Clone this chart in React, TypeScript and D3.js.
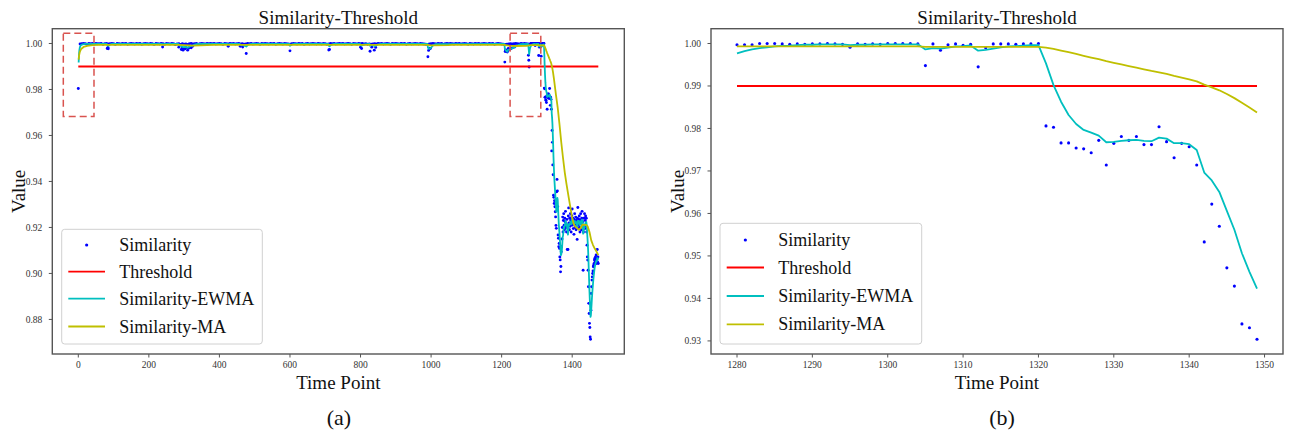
import React from 'react';
import * as d3 from 'd3';

type Pt = [number, number];

// ---------- DATA ----------
// Panel (a): plateau similarity, sampled every 5 time points from t=5 to t=1275
const plateauStart = 5;
const plateauStep = 5;
const plateauSim = [
  0.9998,0.9999,1.0000,0.9999,0.9997,1.0000,0.9999,1.0000,0.9998,1.0000,0.9999,0.9999,1.0000,0.9997,0.9999,
  1.0000,0.9998,0.9999,1.0000,0.9999,0.9996,1.0000,0.9999,0.9998,1.0000,0.9999,1.0000,0.9997,0.9999,1.0000,
  0.9999,0.9998,1.0000,0.9999,1.0000,0.9997,0.9999,1.0000,0.9999,0.9998,1.0000,0.9999,0.9996,1.0000,0.9999,
  0.9998,1.0000,0.9999,0.9997,1.0000,0.9999,0.9998,1.0000,0.9999,0.9995,0.9998,0.9999,0.9996,0.9999,0.9997,
  0.9998,0.9996,0.9999,1.0000,0.9998,0.9999,1.0000,0.9997,0.9999,1.0000,0.9999,0.9998,1.0000,0.9999,1.0000,
  0.9999,1.0000,0.9998,0.9999,1.0000,0.9999,0.9997,1.0000,0.9999,0.9998,1.0000,0.9999,1.0000,0.9998,0.9999,
  1.0000,0.9998,0.9999,0.9997,0.9998,1.0000,0.9999,1.0000,0.9998,0.9999,1.0000,0.9999,0.9997,1.0000,0.9999,
  1.0000,0.9999,0.9998,1.0000,0.9999,1.0000,0.9997,0.9999,1.0000,0.9999,0.9998,1.0000,0.9999,0.9998,0.9997,
  0.9999,1.0000,0.9999,0.9998,1.0000,0.9999,1.0000,0.9997,0.9999,1.0000,0.9998,0.9999,1.0000,0.9999,0.9998,
  1.0000,0.9999,0.9998,1.0000,0.9999,0.9997,0.9998,1.0000,0.9999,1.0000,0.9998,0.9999,1.0000,0.9999,1.0000,
  0.9998,0.9999,1.0000,0.9999,0.9997,1.0000,0.9999,0.9998,1.0000,0.9999,1.0000,0.9998,0.9999,0.9997,0.9998,
  0.9997,0.9998,0.9999,0.9998,1.0000,0.9999,1.0000,0.9998,0.9999,1.0000,0.9999,0.9997,1.0000,0.9999,1.0000,
  0.9999,0.9998,1.0000,0.9999,1.0000,0.9997,0.9999,1.0000,0.9998,0.9999,1.0000,0.9999,0.9998,1.0000,0.9999,
  0.9998,0.9997,0.9996,0.9998,0.9999,1.0000,0.9999,0.9998,1.0000,0.9999,1.0000,0.9997,0.9999,1.0000,0.9999,
  1.0000,0.9999,0.9998,1.0000,0.9999,1.0000,0.9998,0.9999,1.0000,0.9999,0.9997,1.0000,0.9999,0.9998,1.0000,
  0.9999,1.0000,0.9998,0.9999,1.0000,0.9999,0.9998,1.0000,0.9999,1.0000,0.9997,0.9999,1.0000,0.9999,0.9998,
  0.9997,0.9996,0.9997,0.9998,0.9999,0.9998,0.9999,1.0000,0.9999,0.9998,1.0000,0.9999,1.0000,0.9999,0.9998,
];

// Panel (a): isolated dips below the plateau [time, similarity]
const dipDots: Pt[] = [
  [0,0.9804],[82,0.9978],[84,0.9983],[85,0.9977],[239,0.9985],[285,0.9984],[292,0.9974],[295,0.9980],
  [297,0.9971],[300,0.9978],[303,0.9977],[306,0.9982],[310,0.9971],[313,0.9979],[316,0.9983],[320,0.9981],
  [324,0.9988],[425,0.9988],[459,0.9988],[466,0.9985],[476,0.99565],[600,0.9968],[710,0.9972],[712,0.9974],
  [800,0.9984],[803,0.9978],[827,0.99665],[832,0.9984],[839,0.9971],[843,0.9983],[991,0.9942],[993,0.9970],
  [996,0.9980],[998,0.9978],[1209,0.9919],[1210,0.9965],[1211,0.9972],[1213,0.9971],[1214,0.9966],
  [1216,0.9963],[1217,0.9968],[1219,0.9978],[1222,0.9974],[1226,0.9977],[1231,0.9981],[1237,0.9985],
  [1276,0.9949],[1277,0.9927],[1278,0.9898],
];

// Shared detail, t = 1280 ... 1349 (panel b, also part of panel a)
const detailStart = 1280;
const simB = [
  0.9997,0.9997,0.9997,1.0000,1.0000,1.0000,0.9999,0.9998,0.9999,0.9998,
  0.9999,0.9999,1.0000,0.9999,0.9998,0.9991,0.9999,0.9998,0.9999,0.9998,
  1.0000,1.0000,1.0000,1.0000,0.9999,0.9948,0.9999,0.9984,0.9997,0.9999,
  0.9996,0.9998,0.9945,0.9990,0.9999,0.9999,0.9999,0.9998,0.9999,0.9999,
  1.0000,0.9806,0.9803,0.9766,0.9766,0.9754,0.9752,0.9743,0.9772,0.9714,
  0.9765,0.9781,0.9772,0.9781,0.9762,0.9762,0.9804,0.9769,0.9731,0.9765,
  0.9757,0.9714,0.9533,0.9622,0.9570,0.9472,0.9429,0.9340,0.9331,0.9304,
];
const ewmaB = [
  0.99765,0.9982,0.9986,0.9989,0.9991,0.9993,0.99945,0.9995,0.9996,0.9997,
  0.9997,0.9998,0.9998,0.9998,0.9998,0.9996,0.9997,0.9997,0.9998,0.9998,
  0.9998,0.9998,0.9998,0.9998,0.9998,0.9986,0.9989,0.9988,0.99905,0.9993,
  0.9994,0.99955,0.9983,0.9985,0.9988,0.9991,0.9993,0.9994,0.9995,0.9996,
  0.9996,0.99531,0.99021,0.98629,0.98317,0.98106,0.97965,0.97902,0.97831,0.97676,
  0.97683,0.97707,0.97723,0.9773,0.97707,0.977,0.97784,0.97761,0.97653,0.97653,
  0.9763,0.97495,0.96962,0.96778,0.96507,0.9606,0.95617,0.95064,0.94626,0.9423,
];
const maB = [
  0.9993,0.9993,0.9993,0.9993,0.9993,0.9993,0.9993,0.9993,0.9993,0.9993,
  0.9993,0.9993,0.9993,0.9993,0.9993,0.9993,0.9993,0.9993,0.9993,0.9993,
  0.9993,0.9993,0.9993,0.9993,0.9993,0.9992,0.9992,0.9992,0.9992,0.9992,
  0.9992,0.9992,0.9992,0.9992,0.9992,0.9992,0.9992,0.9992,0.9992,0.9992,
  0.9992,0.99905,0.99872,0.99833,0.99794,0.99753,0.99711,0.99669,0.99631,0.99583,
  0.99544,0.99507,0.99469,0.99433,0.99393,0.99353,0.99321,0.99282,0.99237,0.99198,
  0.99158,0.9911,0.99032,0.98969,0.98898,0.9881,0.98714,0.98604,0.98493,0.98377,
];

// Panel (a): tail, t = 1350 ... 1474
const tailStart = 1350;
const simC = [
  0.9316,0.9290,0.9268,0.9246,0.9209,0.9196,0.9355,0.9409,0.9359,0.9290,
  0.9167,0.9153,0.9116,0.9130,0.9109,0.9072,0.9059,0.9007,0.9030,0.9094,
  0.9116,0.9150,0.9200,0.9245,0.9180,0.9230,0.9260,0.9210,0.9190,0.9240,
  0.9225,0.9270,0.9200,0.9215,0.9180,0.9235,0.9104,0.9200,0.9104,0.9250,
  0.9285,0.9220,0.9190,0.9240,0.9205,0.9260,0.9230,0.9180,0.9215,0.9250,
  0.9280,0.9210,0.9240,0.9195,0.9225,0.9170,0.9235,0.9260,0.9200,0.9215,
  0.9245,0.9190,0.9230,0.9205,0.9148,0.9240,0.9287,0.9210,0.9195,0.9235,
  0.9250,0.9200,0.9180,0.9230,0.9260,0.9215,0.9190,0.9240,0.9270,0.9205,
  0.9225,0.9014,0.9180,0.9240,0.9210,0.9260,0.9195,0.9230,0.9250,0.9205,
  0.9240,0.9180,0.9123,0.9072,0.9058,0.9014,0.8942,0.8870,0.8826,0.8783,
  0.8765,0.8724,0.8714,0.8840,0.8913,0.8942,0.8971,0.8985,0.9000,0.9011,
  0.9029,0.9036,0.9043,0.9058,0.9065,0.9050,0.9072,0.9058,0.9080,0.9043,
  0.9065,0.9104,0.9050,0.9072,0.9043,
];
const ewmaC = [
  0.9396,0.9370,0.9344,0.9320,0.9292,0.9268,0.9290,0.9320,0.9329,0.9320,
  0.9281,0.9249,0.9216,0.9194,0.9173,0.9148,0.9126,0.9096,0.9079,0.9083,
  0.9091,0.9106,0.9130,0.9158,0.9164,0.9180,0.9200,0.9203,0.9200,0.9210,
  0.9214,0.9228,0.9221,0.9219,0.9210,0.9216,0.9188,0.9191,0.9169,0.9189,
  0.9213,0.9215,0.9209,0.9217,0.9214,0.9225,0.9226,0.9215,0.9215,0.9224,
  0.9238,0.9231,0.9233,0.9224,0.9224,0.9210,0.9217,0.9227,0.9221,0.9219,
  0.9226,0.9217,0.9220,0.9216,0.9199,0.9209,0.9229,0.9224,0.9217,0.9221,
  0.9228,0.9221,0.9211,0.9216,0.9227,0.9224,0.9216,0.9222,0.9234,0.9227,
  0.9226,0.9173,0.9175,0.9191,0.9196,0.9212,0.9208,0.9213,0.9222,0.9218,
  0.9224,0.9213,0.9190,0.9161,0.9135,0.9105,0.9064,0.9016,0.8968,0.8922,
  0.8883,0.8843,0.8811,0.8818,0.8842,0.8867,0.8893,0.8916,0.8937,0.8955,
  0.8974,0.8989,0.9003,0.9017,0.9029,0.9034,0.9044,0.9047,0.9055,0.9052,
  0.9055,0.9067,0.9063,0.9065,0.9060,
];

// Panel (a): EWMA / MA before t=1280 [time, value]
const ewmaHead: Pt[] = [
  [1,0.9917],[2,0.9953],[3,0.9970],[4,0.9980],[5,0.9986],[7,0.9992],[10,0.9995],[15,0.9997],[20,0.9998],
  [81,0.9998],[82,0.9993],[84,0.9993],[85,0.9989],[89,0.9995],[95,0.9998],
  [238,0.9998],[239,0.9995],[244,0.9998],
  [284,0.9998],[285,0.9994],[292,0.9988],[297,0.9984],[303,0.9985],[310,0.9982],[316,0.9987],[320,0.9989],
  [324,0.9991],[332,0.9996],[340,0.9998],
  [424,0.9998],[425,0.9995],[430,0.9998],
  [458,0.9998],[459,0.9995],[466,0.9993],[476,0.9987],[482,0.9995],[490,0.9998],
  [599,0.9998],[600,0.9990],[606,0.9996],[612,0.9998],
  [709,0.9998],[710,0.9991],[712,0.9988],[718,0.9995],[725,0.9998],
  [799,0.9998],[800,0.9994],[803,0.9990],[810,0.9996],
  [826,0.9998],[827,0.9990],[833,0.9994],[839,0.9989],[843,0.9990],[850,0.9996],[858,0.9998],
  [990,0.9998],[991,0.9982],[993,0.9977],[996,0.9979],[998,0.9978],[1005,0.9991],[1012,0.9997],
  [1208,0.9998],[1209,0.9978],[1211,0.9972],[1214,0.9966],[1216,0.9964],[1218,0.9972],[1222,0.9973],
  [1226,0.9976],[1231,0.9980],[1237,0.9984],[1245,0.9992],[1255,0.9997],
  [1275,0.9998],[1276,0.9985],[1277,0.9971],[1278,0.9953],[1279,0.9964],
];
const maHead: Pt[] = [
  [1,0.9930],[2,0.9946],[4,0.9962],[8,0.9976],[15,0.9985],[25,0.9990],[40,0.9993],[60,0.9994],
  [285,0.9994],[300,0.9993],[325,0.9991],[345,0.9992],[385,0.9994],[990,0.9994],[1000,0.9992],
  [1050,0.9993],[1060,0.9994],[1208,0.9994],[1220,0.9991],[1240,0.9989],[1270,0.9990],[1279,0.9992],
];
const maTail: Pt[] = [
  [1354,0.97767],[1359,0.97203],[1364,0.96484],[1369,0.95704],[1374,0.95021],[1379,0.94386],
  [1384,0.93877],[1389,0.93404],[1394,0.9295],[1399,0.92501],[1404,0.9216],[1409,0.92027],
  [1414,0.91975],[1419,0.91901],[1424,0.91975],[1429,0.92118],[1434,0.92114],[1439,0.92116],
  [1444,0.92046],[1449,0.91803],[1454,0.91439],[1459,0.91235],[1464,0.91082],[1469,0.90952],[1474,0.908],
];

const threshold = 0.99;
const fullRange: Pt = [0, 1474];
const zoomRange: Pt = [1280, 1349];

// highlighted windows in panel (a): [t0, t1, v0, v1]
const highlightBoxes = [
  [-42.5, 44.5, 0.9683, 1.0044],
  [1224, 1311, 0.9683, 1.0044],
];

const ticksXA = [0, 200, 400, 600, 800, 1000, 1200, 1400];
const ticksYA = [0.88, 0.90, 0.92, 0.94, 0.96, 0.98, 1.00];
const ticksXB = [1280, 1290, 1300, 1310, 1320, 1330, 1340, 1350];
const ticksYB = [0.93, 0.94, 0.95, 0.96, 0.97, 0.98, 0.99, 1.00];

const legendLabels = ['Similarity', 'Threshold', 'Similarity-EWMA', 'Similarity-MA'];
const titleText = 'Similarity-Threshold';

// ---------- STYLE ----------
const SERIF = "'Times New Roman', 'Liberation Serif', 'DejaVu Serif', serif";
const C_DOT = '#0000ff';
const C_THR = '#ff0000';
const C_EWMA = '#00bfbf';
const C_MA = '#bfbf00';
const C_SPINE = '#555';

function pad(lo: number, hi: number): [number, number] {
  const d = (hi - lo) * 0.05;
  return [lo - d, hi + d];
}

const seq = (arr: number[], start: number, step = 1): Pt[] => arr.map((v, i) => [start + i * step, v]);

interface PanelProps {
  box: { x0: number; x1: number; y0: number; y1: number };
  dots: Pt[];
  dotR: number;
  ewma: Pt[];
  ma: Pt[];
  xRange: Pt;
  xTicks: number[];
  yTicks: number[];
  boxes: number[][];
  legend: { x: number; y: number; w: number; h: number; rows: number[]; h0: number; h1: number; tx: number };
  ylabelX: number;
  caption: string;
  captionX: number;
}

function Panel(p: PanelProps) {
  const { box } = p;
  const allV = [...p.dots.map(d => d[1]), ...p.ewma.map(d => d[1]), ...p.ma.map(d => d[1]), threshold];
  const [vmin, vmax] = d3.extent(allV) as [number, number];
  const xs = d3.scaleLinear().domain(pad(p.xRange[0], p.xRange[1])).range([box.x0, box.x1]);
  const ys = d3.scaleLinear().domain(pad(vmin, vmax)).range([box.y1, box.y0]);
  const line = d3.line<Pt>().x(d => xs(d[0])).y(d => ys(d[1]));
  const cx = (box.x0 + box.x1) / 2;
  const cy = (box.y0 + box.y1) / 2;
  const lg = p.legend;
  return (
    <g>
      <text x={cx} y={23.5} textAnchor="middle" fontFamily={SERIF} fontSize={19} fill="#111">{titleText}</text>
      {p.dots.map((d, i) => (
        <circle key={i} cx={xs(d[0])} cy={ys(d[1])} r={p.dotR} fill={C_DOT} />
      ))}
      <path d={line([[p.xRange[0], threshold], [p.xRange[1], threshold]]) || ''} stroke={C_THR} strokeWidth={1.8} fill="none" />
      <path d={line(p.ewma) || ''} stroke={C_EWMA} strokeWidth={1.8} fill="none" strokeLinejoin="round" />
      <path d={line(p.ma) || ''} stroke={C_MA} strokeWidth={1.8} fill="none" strokeLinejoin="round" />
      {p.boxes.map((b, i) => (
        <rect key={i} x={xs(b[0])} y={ys(b[3])} width={xs(b[1]) - xs(b[0])} height={ys(b[2]) - ys(b[3])}
          fill="none" stroke="#d9534f" strokeWidth={1.5} strokeDasharray="7,4" />
      ))}
      <rect x={box.x0} y={box.y0} width={box.x1 - box.x0} height={box.y1 - box.y0} fill="none" stroke={C_SPINE} strokeWidth={1.4} />
      {p.xTicks.map(t => (
        <g key={t}>
          <line x1={xs(t)} x2={xs(t)} y1={box.y1} y2={box.y1 + 3.5} stroke={C_SPINE} strokeWidth={1} />
          <text x={xs(t)} y={box.y1 + 14} textAnchor="middle" fontFamily={SERIF} fontSize={9.5} fill="#333">{t}</text>
        </g>
      ))}
      {p.yTicks.map(t => (
        <g key={t}>
          <line x1={box.x0 - 3.5} x2={box.x0} y1={ys(t)} y2={ys(t)} stroke={C_SPINE} strokeWidth={1} />
          <text x={box.x0 - 10} y={ys(t) + 3.3} textAnchor="end" fontFamily={SERIF} fontSize={9.5} fill="#333">{d3.format('.2f')(t)}</text>
        </g>
      ))}
      <text transform={`translate(${p.ylabelX},${cy}) rotate(-90)`} textAnchor="middle" fontFamily={SERIF} fontSize={19} fill="#111">Value</text>
      <text x={cx} y={389} textAnchor="middle" fontFamily={SERIF} fontSize={19} fill="#111">Time Point</text>
      <text x={p.captionX} y={425} textAnchor="middle" fontFamily={SERIF} fontSize={22} fill="#111">{p.caption}</text>
      <rect x={lg.x} y={lg.y} width={lg.w} height={lg.h} rx={3} fill="#fff" fillOpacity={0.8} stroke="#d0d0d0" strokeWidth={1} />
      <circle cx={(lg.h0 + lg.h1) / 2} cy={lg.rows[0]} r={1.6} fill={C_DOT} />
      <line x1={lg.h0} x2={lg.h1} y1={lg.rows[1]} y2={lg.rows[1]} stroke={C_THR} strokeWidth={1.8} />
      <line x1={lg.h0} x2={lg.h1} y1={lg.rows[2]} y2={lg.rows[2]} stroke={C_EWMA} strokeWidth={1.8} />
      <line x1={lg.h0} x2={lg.h1} y1={lg.rows[3]} y2={lg.rows[3]} stroke={C_MA} strokeWidth={1.8} />
      {legendLabels.map((s, i) => (
        <text key={s} x={lg.tx} y={lg.rows[i] + 6} fontFamily={SERIF} fontSize={18} fill="#111">{s}</text>
      ))}
    </g>
  );
}

export default function App() {
  const leftDots: Pt[] = [
    ...seq(plateauSim, plateauStart, plateauStep),
    ...dipDots,
    ...seq(simB, detailStart),
    ...seq(simC, tailStart),
  ];
  const leftEwma: Pt[] = [...ewmaHead, ...seq(ewmaB, detailStart), ...seq(ewmaC, tailStart)];
  const leftMa: Pt[] = [...maHead, ...seq(maB, detailStart), ...maTail];
  return (
    <div style={{ position: 'absolute', left: 0, top: 0 }}>
      <svg width={1292} height={436} style={{ display: 'block', background: '#fff' }}>
        <Panel
          box={{ x0: 52.3, x1: 624.3, y0: 28.7, y1: 354 }}
          dots={leftDots} dotR={1.45} ewma={leftEwma} ma={leftMa} xRange={fullRange}
          xTicks={ticksXA} yTicks={ticksYA} boxes={highlightBoxes}
          legend={{ x: 61.7, y: 229.3, w: 200.6, h: 114.7, rows: [245, 271.7, 298.6, 326.5], h0: 68.3, h1: 105, tx: 119.3 }}
          ylabelX={25} caption="(a)" captionX={339}
        />
        <Panel
          box={{ x0: 711, x1: 1283, y0: 28.7, y1: 354 }}
          dots={seq(simB, detailStart)} dotR={1.55} ewma={seq(ewmaB, detailStart)} ma={seq(maB, detailStart)} xRange={zoomRange}
          xTicks={ticksXB} yTicks={ticksYB} boxes={[]}
          legend={{ x: 720, y: 223.3, w: 201.7, h: 120.7, rows: [240, 267.5, 296, 324.3], h0: 726.7, h1: 764, tx: 778.3 }}
          ylabelX={683.5} caption="(b)" captionX={1002}
        />
      </svg>
    </div>
  );
}
